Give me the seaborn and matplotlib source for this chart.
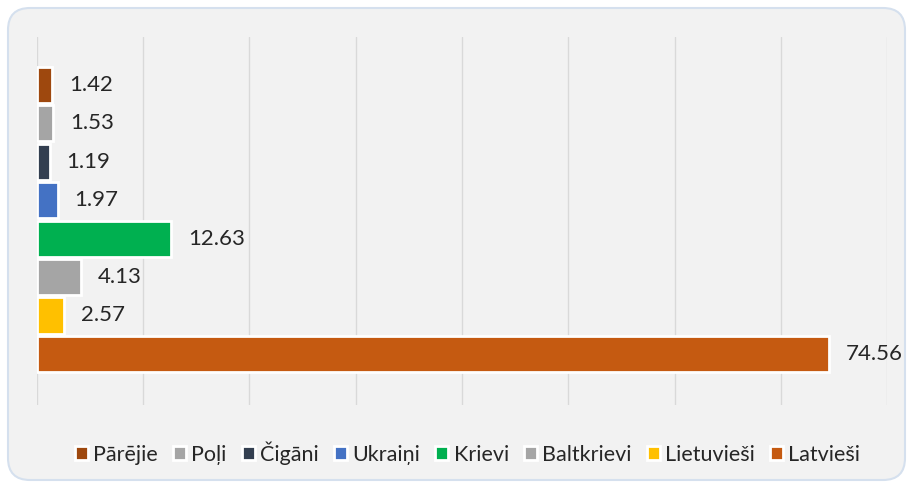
import seaborn as sns
import matplotlib.pyplot as plt
import pandas as pd
from matplotlib.patches import FancyBboxPatch, Patch

groups = ['Pārējie', 'Poļi', 'Čigāni', 'Ukraiņi', 'Krievi', 'Baltkrievi', 'Lietuvieši', 'Latvieši']
shares = [1.42, 1.53, 1.19, 1.97, 12.63, 4.13, 2.57, 74.56]
colors = ['#9e480e', '#a5a5a5', '#333f50', '#4472c4', '#00b050', '#a5a5a5', '#ffc000', '#c55a11']

df = pd.DataFrame({'group': groups, 'share': shares})
pal = dict(zip(groups, colors))

sns.set_style('white')
plt.rcParams['font.family'] = ['Lato', 'DejaVu Sans']

fig = plt.figure(figsize=(9.08, 4.84), dpi=100)
fig.patch.set_facecolor('white')

# rounded panel behind the chart
panel = FancyBboxPatch((0.08, 0.04), 8.97, 4.72, boxstyle='round,pad=0,rounding_size=0.22',
                       transform=fig.dpi_scale_trans, facecolor='#f2f2f2',
                       edgecolor='#d5e0ee', linewidth=1.5, zorder=-10)
fig.patches.append(panel)

ax = fig.add_axes([0.0407, 0.1632, 0.9362, 0.7604])
ax.set_zorder(1)
ax.set_facecolor('none')

sns.barplot(data=df, y='group', x='share', hue='group', palette=pal, order=groups,
            orient='h', width=0.94, edgecolor='white', linewidth=2, saturation=1,
            legend=False, ax=ax)

for i, v in enumerate(shares):
    ax.annotate(f'{v:.2f}', (v, i), xytext=(12, 0), textcoords='offset points',
                va='center', ha='left', fontsize=16, color='#262626')

ax.set_xlim(0, 80)
ax.set_ylim(8.33, -1.25)
ax.set_xticks(range(0, 81, 10))
ax.grid(axis='x', color='#d9d9d9', linewidth=1)
ax.set_axisbelow(True)
ax.tick_params(left=False, bottom=False, labelleft=False, labelbottom=False)
for s in ax.spines.values():
    s.set_visible(False)
ax.set_xlabel('')
ax.set_ylabel('')

handles = [Patch(facecolor=c, edgecolor='white', linewidth=2) for c in colors]
fig.legend(handles, groups, loc='center', bbox_to_anchor=(0.515, 0.064), ncol=8,
           frameon=False, fontsize=15.5, handlelength=0.6, handleheight=0.6,
           handletextpad=0.25, columnspacing=0.7, labelcolor='#262626')

plt.savefig('out.png', dpi=100)
